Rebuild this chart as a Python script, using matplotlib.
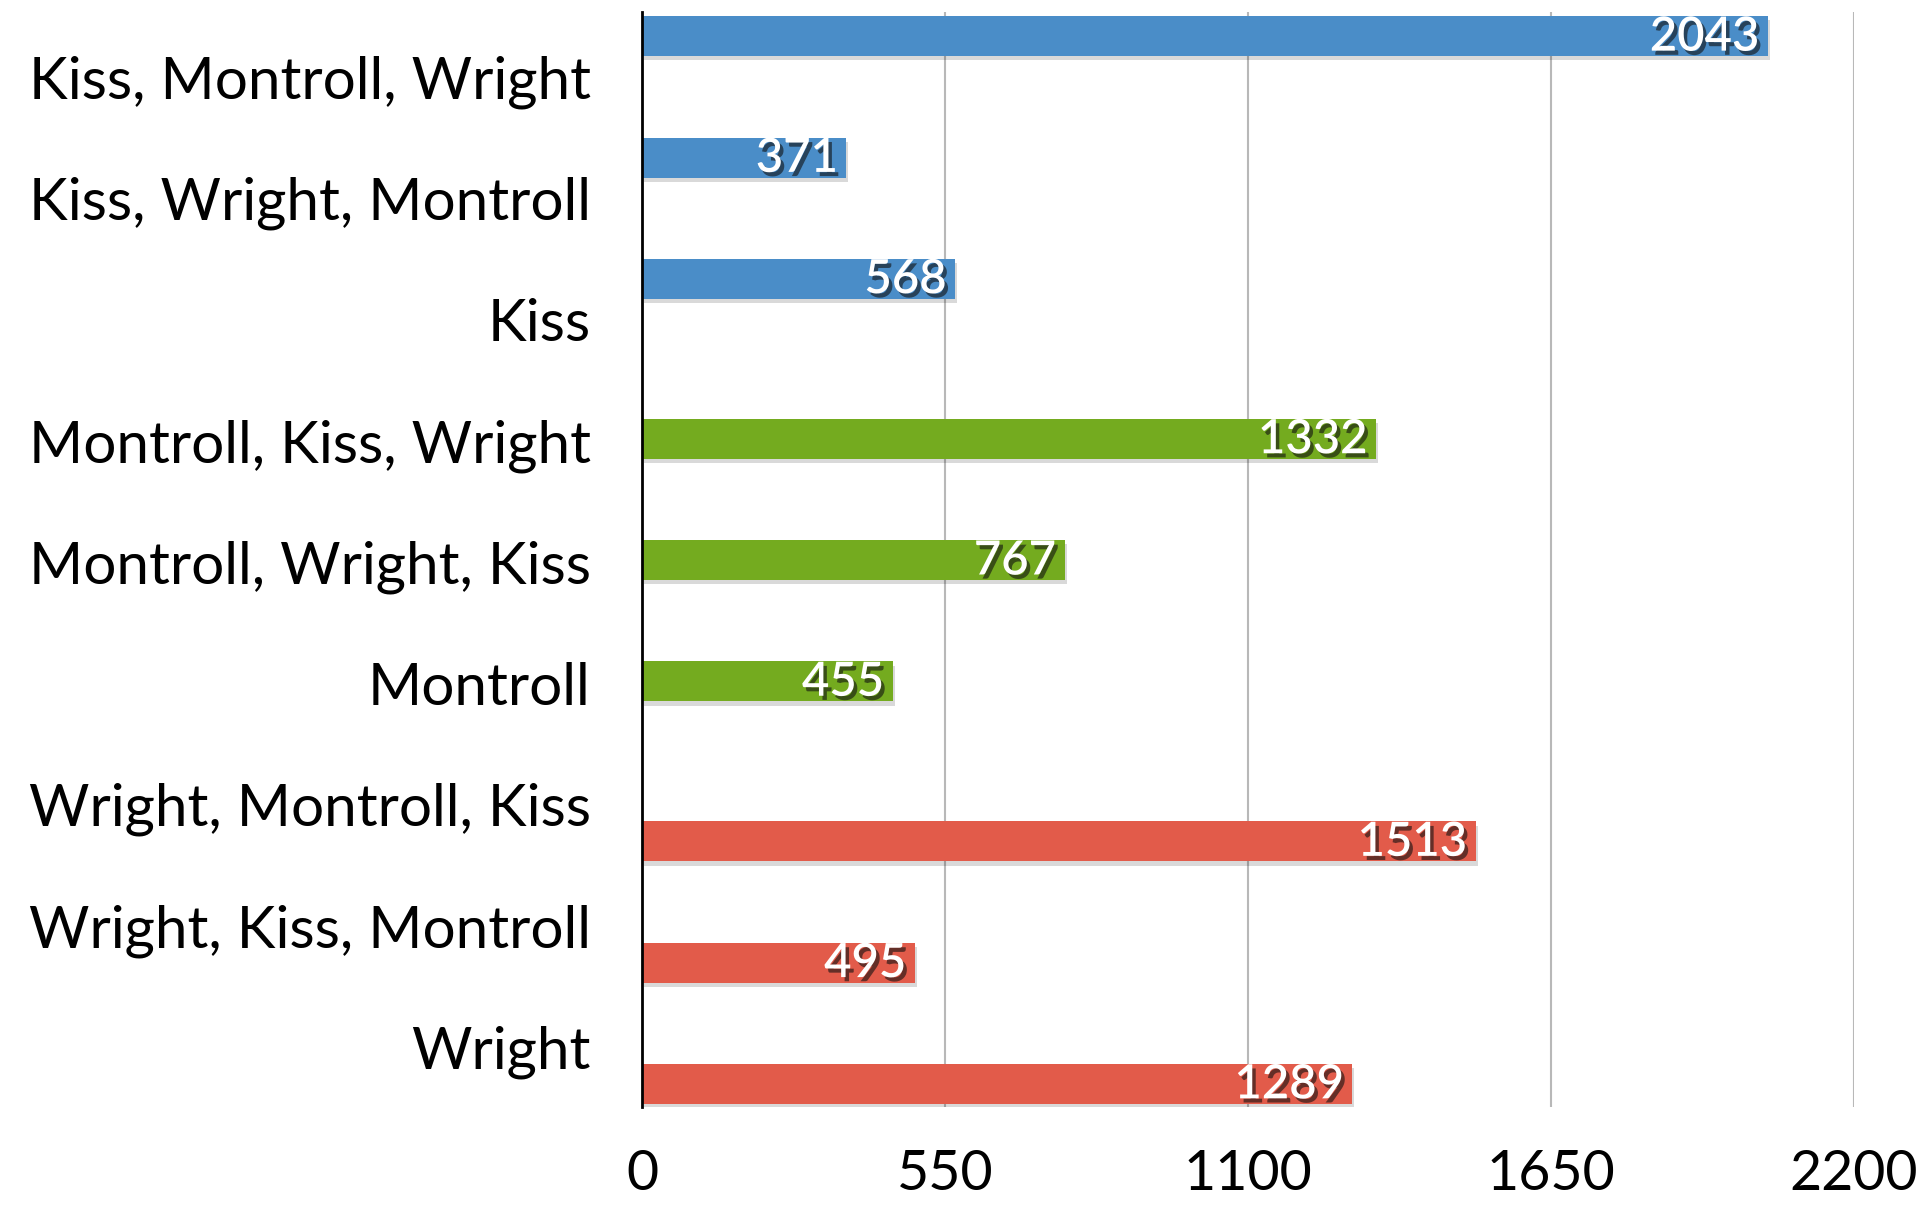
import matplotlib
matplotlib.use('Agg')
import matplotlib.pyplot as plt
import matplotlib.patheffects as pe
import numpy as np

categories = ["Kiss, Montroll, Wright", "Kiss, Wright, Montroll", "Kiss",
              "Montroll, Kiss, Wright", "Montroll, Wright, Kiss", "Montroll",
              "Wright, Montroll, Kiss", "Wright, Kiss, Montroll", "Wright"]
values = [2043, 371, 568, 1332, 767, 455, 1513, 495, 1289]
groups = [0, 0, 0, 1, 1, 1, 2, 2, 2]
group_colors = ["#4a8dc8", "#74ab1f", "#e25b4a"]
x_ticks = [0, 550, 1100, 1650, 2200]

label_font = ['Lato', 'DejaVu Sans']
num_font = ['Lato', 'DejaVu Sans']

fig = plt.figure(figsize=(19.29, 12.05), dpi=100)
ax = fig.add_axes([642 / 1929, 1 - 1107 / 1205, (1854 - 642) / 1929, (1107 - 12) / 1205])

idx = np.arange(len(categories))
bar_pos = idx + 0.2 + 0.32 * np.array(groups)
label_pos = idx + 0.535
colors = [group_colors[g] for g in groups]

bars = ax.barh(bar_pos, values, height=0.33, color=colors, zorder=3)
for b in bars:
    b.set_path_effects([pe.SimplePatchShadow(offset=(1.5, -3), shadow_rgbFace='black', alpha=0.15), pe.Normal()])

for p, v in zip(bar_pos, values):
    ax.annotate(str(v), xy=(v, p), xytext=(-6, -1), textcoords='offset points',
                ha='right', va='center', color='white', fontsize=34, family=num_font,
                fontstyle='normal', fontweight='semibold', zorder=5,
                path_effects=[pe.SimplePatchShadow(offset=(2.5, -3), shadow_rgbFace='#111111', alpha=0.6), pe.Normal()])

ax.set_xlim(0, 2200)
ax.set_ylim(9.03, 0)
ax.set_xticks(x_ticks)
ax.set_xticklabels([str(t) for t in x_ticks], fontsize=40, family=num_font, fontstyle='normal')
ax.set_yticks(label_pos)
ax.set_yticklabels(categories, fontsize=42, family=label_font, fontstyle='normal')
ax.tick_params(axis='both', length=0)
ax.tick_params(axis='x', pad=30)
ax.tick_params(axis='y', pad=37)
ax.xaxis.grid(True, color='#b8b8b8', lw=1.5, zorder=0)
ax.set_axisbelow(True)
for s in ['top', 'right', 'bottom']:
    ax.spines[s].set_visible(False)
ax.spines['left'].set_color('black')
ax.spines['left'].set_linewidth(2)
ax.spines['left'].set_zorder(6)

fig.savefig('out.png', dpi=100)
